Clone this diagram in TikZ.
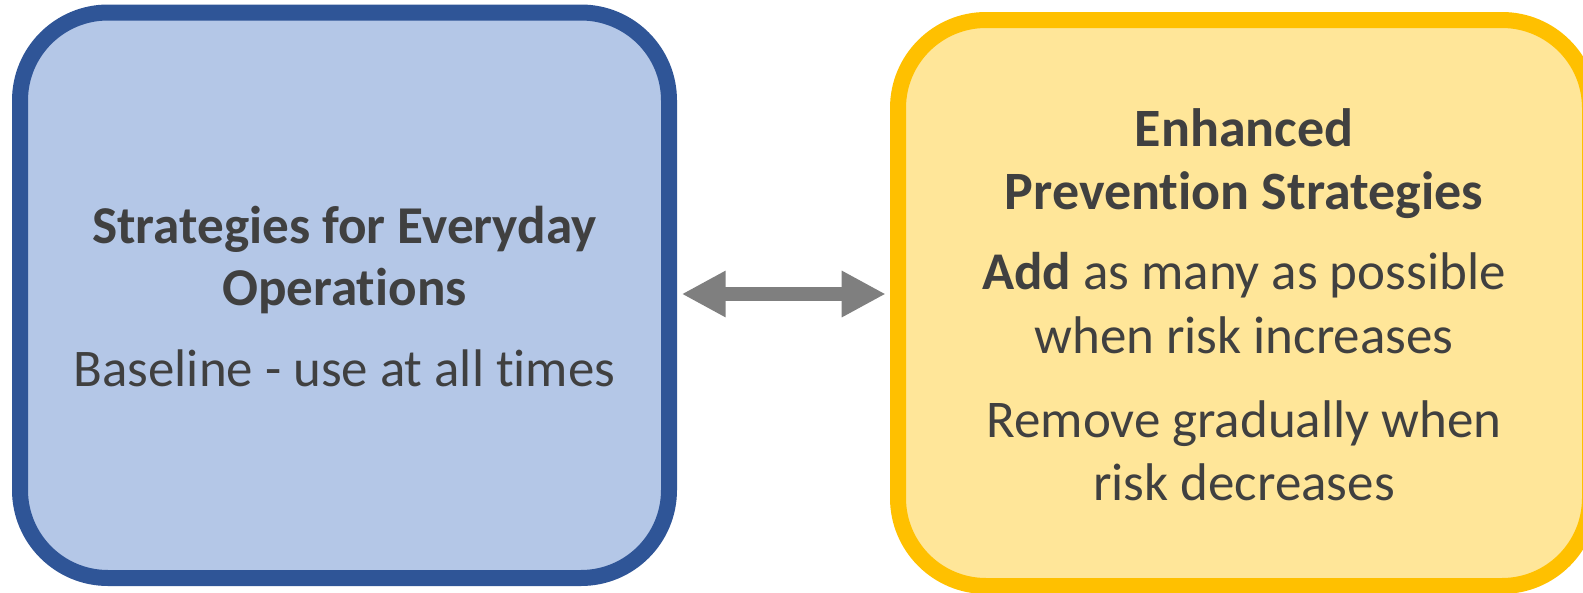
\documentclass[tikz,border=0pt]{standalone}
\usepackage{fontspec}
\setmainfont{Carlito}[RawFeature=-liga]
\usetikzlibrary{arrows.meta}
\definecolor{bluestroke}{HTML}{2F5597}
\definecolor{bluefill}{HTML}{B4C7E7}
\definecolor{yelstroke}{HTML}{FFC000}
\definecolor{yelfill}{HTML}{FFE699}
\definecolor{arrowgray}{HTML}{7F7F7F}
\definecolor{txt}{HTML}{404040}
\tikzset{
  panel/.style={draw, line width=16pt, rounded corners=88pt, inner sep=0pt},
  bluepanel/.style={panel, draw=bluestroke, fill=bluefill, minimum width=649pt, minimum height=565.5pt},
  yelpanel/.style={panel, draw=yelstroke, fill=yelfill, minimum width=692pt, minimum height=566pt},
  line/.style={anchor=base, inner sep=0pt, text=txt},
  lb/.style={line, font=\fontsize{53.2}{62}\bfseries\selectfont},
  lr/.style={line, font=\fontsize{52.9}{62}\selectfont},
  rb/.style={line, font=\fontsize{54}{64}\bfseries\selectfont},
  rr/.style={line, font=\fontsize{53}{64}\selectfont},
  dblarrow/.style={draw=arrowgray, line width=14.4pt,
    {Triangle[length=44pt,width=43.4pt]}-{Triangle[length=44pt,width=43.4pt]}}
}
\begin{document}
\begin{tikzpicture}[x=1pt,y=-1pt]
\useasboundingbox (0,0) rectangle (1583,592);
\node[bluepanel] (left) at (344.5,295.25) {};
\node[yelpanel] (right) at (1244,303) {};
\node[lb] (l1) at (344.5,243.5) {Strategies for Everyday};
\node[lb] (l2) at (344.5,305.5) {Operations};
\node[lr] (l3) at (344.5,386) {Baseline - use at all times};
\node[rb] (r1) at (1244,146) {Enhanced};
\node[rb] (r2) at (1244,209) {Prevention Strategies};
\node[rr] (r3) at (1244,289.5) {\textbf{Add} as many as possible};
\node[rr] (r4) at (1244,353.4) {when risk increases};
\node[rr] (r5) at (1244,437) {Remove gradually when};
\node[rr] (r6) at (1244,500) {risk decreases};
\coordinate (al) at (681.7,294);
\coordinate (ar) at (885.7,294);
\draw[dblarrow] (al) -- (ar);
\end{tikzpicture}
\end{document}
